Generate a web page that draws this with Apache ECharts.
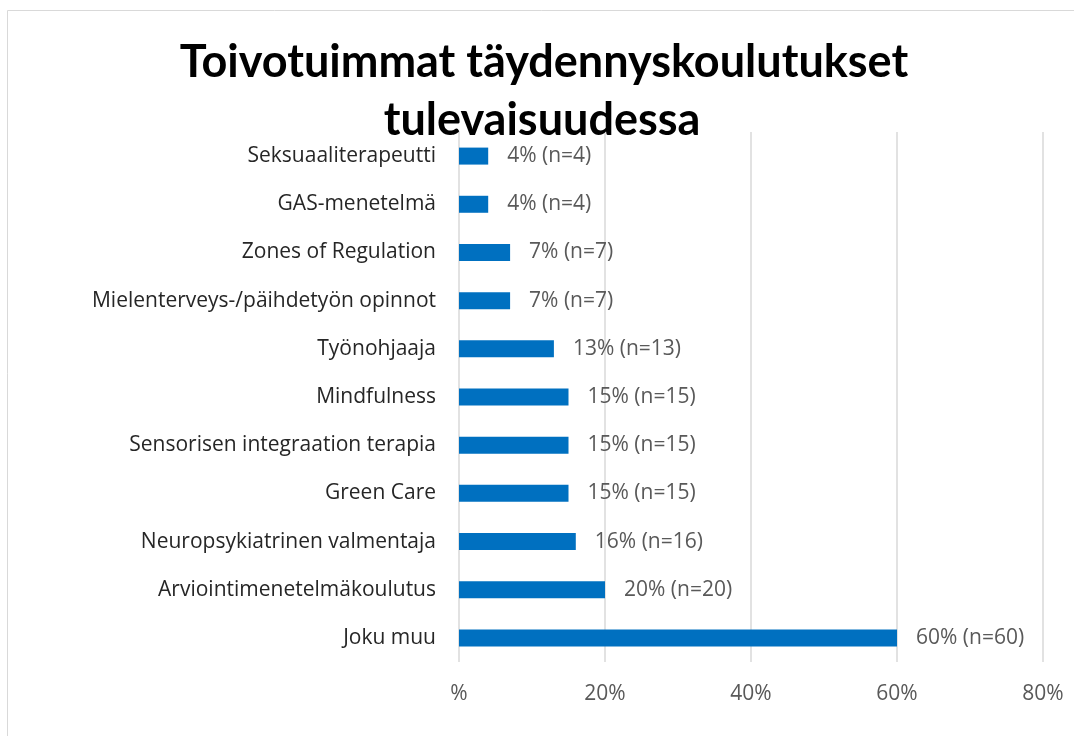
<!DOCTYPE html>
<html>
<head>
<meta charset="utf-8">
<script src="https://cdn.jsdelivr.net/npm/echarts@6/dist/echarts.min.js"></script>
<style>
  html, body { margin: 0; padding: 0; background: #ffffff; }
  #chart { width: 1074px; height: 736px; }
</style>
</head>
<body>
<div id="chart"></div>
<script>
// categories top to bottom
const categories = [
  'Seksuaaliterapeutti',
  'GAS-menetelmä',
  'Zones of Regulation',
  'Mielenterveys-/päihdetyön opinnot',
  'Työnohjaaja',
  'Mindfulness',
  'Sensorisen integraation terapia',
  'Green Care',
  'Neuropsykiatrinen valmentaja',
  'Arviointimenetelmäkoulutus',
  'Joku muu'
]
const percents = [4, 4, 7, 7, 13, 15, 15, 15, 16, 20, 60]
const counts = [4, 4, 7, 7, 13, 15, 15, 15, 16, 20, 60]
const xTicks = [0, 20, 40, 60, 80]

const TITLE_FONT = 'Lato, "Open Sans", sans-serif'
const FONT = '"Open Sans", Lato, sans-serif'
const BAR_COLOR = '#0070c0'
const LABEL_COLOR = '#595959'
const GRID_COLOR = '#d9d9d9'

const chart = echarts.init(document.getElementById('chart'))

chart.setOption({
  animation: false,
  textStyle: { fontFamily: FONT },
  grid: {
    left: 459,
    right: 31,
    top: 132,
    bottom: 74
  },
  graphic: [
    {
      type: 'rect',
      shape: { x: 7.5, y: 10.5, width: 1090, height: 760 },
      style: { fill: 'none', stroke: GRID_COLOR, lineWidth: 1 },
      silent: true
    },
    {
      type: 'text',
      x: 544,
      y: 62,
      style: {
        text: 'Toivotuimmat täydennyskoulutukset',
        fontFamily: TITLE_FONT,
        fontSize: 45,
        fontWeight: 'bold',
        fill: '#000000',
        textAlign: 'center',
        textVerticalAlign: 'middle'
      },
      z: 100
    },
    {
      type: 'text',
      x: 542,
      y: 120,
      style: {
        text: 'tulevaisuudessa',
        fontFamily: TITLE_FONT,
        fontSize: 45,
        fontWeight: 'bold',
        fill: '#000000',
        textAlign: 'center',
        textVerticalAlign: 'middle'
      },
      z: 100
    }
  ],
  xAxis: {
    type: 'value',
    min: xTicks[0],
    max: xTicks[xTicks.length - 1],
    interval: 20,
    axisLine: { show: false },
    axisTick: { show: false },
    splitLine: { lineStyle: { color: GRID_COLOR, width: 1.5 } },
    axisLabel: {
      color: LABEL_COLOR,
      fontSize: 21,
      fontFamily: FONT,
      margin: 22,
      formatter: value => (value === 0 ? '%' : value + '%')
    }
  },
  yAxis: {
    type: 'category',
    inverse: true,
    data: categories,
    axisLine: { show: false },
    axisTick: { show: false },
    axisLabel: {
      color: '#262626',
      fontSize: 21,
      fontFamily: FONT,
      margin: 23
    }
  },
  series: [
    {
      type: 'bar',
      data: percents,
      barWidth: 17,
      itemStyle: { color: BAR_COLOR },
      label: {
        show: true,
        position: 'right',
        distance: 19,
        color: LABEL_COLOR,
        fontSize: 21,
        fontFamily: FONT,
        formatter: params => `${params.value}% (n=${counts[params.dataIndex]})`
      }
    }
  ]
})
</script>
</body>
</html>
